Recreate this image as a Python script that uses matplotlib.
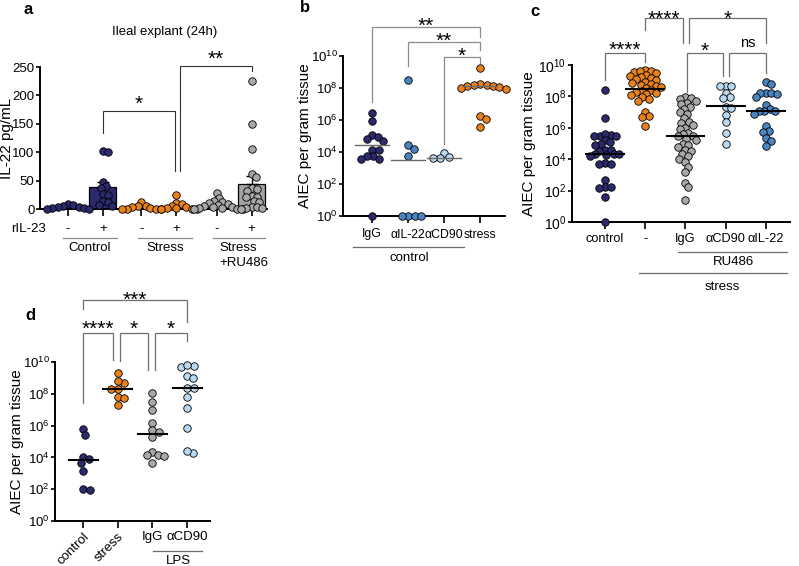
import numpy as np
import matplotlib
matplotlib.use('Agg')
import matplotlib.pyplot as plt
from matplotlib.lines import Line2D

plt.rcParams['font.family'] = ['Liberation Sans', 'DejaVu Sans']
plt.rcParams['mathtext.fontset'] = 'custom'
plt.rcParams['mathtext.rm'] = 'Liberation Sans'
plt.rcParams['mathtext.it'] = 'Liberation Sans:italic'
plt.rcParams['mathtext.bf'] = 'Liberation Sans:bold'

# ---- data: panel a, IL-22 pg/mL ----
a_ctrl_minus = [9, 7, 6, 4, 3, 2, 1, 0, 0]
a_ctrl_plus = [102, 101, 48, 40, 37, 27, 25, 14, 12, 7, 5]
a_str_minus = [12, 6, 5, 3, 1, 0, 0, 0, 0]
a_str_plus = [24, 11, 9, 6, 4, 2, 1, 0, 0, 0]
a_ru_minus = [28, 19, 14, 12, 10, 9, 7, 5, 4, 3, 2, 1, 0, 0, 0]
a_ru_plus = [226, 150, 105, 62, 57, 37, 36, 31, 23, 22, 21, 14, 13, 4, 3, 2, 1, 0]
a_ticklabels = ['-', '+', '-', '+', '-', '+']

# ---- data: panel b, log10 AIEC per gram tissue ----
b_igg = [6.46, 5.92, 5.04, 4.94, 4.83, 4.67, 4.15, 4.10, 3.75, 3.75, 3.58, 3.54, 0.0]
b_il22 = [8.48, 4.42, 4.21, 3.73, 0.0, 0.0, 0.0, 0.0]
b_cd90 = [3.94, 3.69, 3.65, 3.65]
b_stress = [9.27, 8.25, 8.21, 8.17, 8.12, 8.1, 8.06, 8.0, 7.96, 6.25, 6.08, 5.56]
b_lines = [4.42, 3.48, 3.65, 8.1]
b_ticklabels = ['IgG', 'αIL-22', 'αCD90', 'stress']

# ---- data: panel c ----
c_control = [8.4, 6.6, 5.55, 5.5, 5.5, 5.45, 5.6, 5.2, 5.1, 4.95, 4.9, 4.6, 4.55, 4.6,
             4.3, 4.25, 4.3, 4.2, 4.3, 3.75, 3.7, 3.72, 2.65, 2.2, 2.15, 2.2, 1.6, 0.0]
c_minus = [9.7, 9.62, 9.55, 9.6, 9.5, 9.35, 9.3, 9.2, 9.25, 9.1, 9.05, 8.9, 8.85, 8.8,
           8.7, 8.65, 8.6, 8.55, 8.4, 8.35, 8.3, 8.2, 8.15, 8.1, 7.95, 7.85, 7.7,
           7.0, 6.75, 6.7, 6.1]
c_igg = [7.95, 7.9, 7.85, 7.7, 7.6, 7.5, 7.3, 7.2, 7.0, 6.9, 6.6, 6.4, 6.3, 6.2, 6.0,
         5.9, 5.7, 5.6, 5.5, 5.45, 5.3, 5.2, 5.0, 4.9, 4.8, 4.6, 4.5, 4.3, 4.2, 4.0,
         3.8, 3.5, 3.2, 2.5, 2.2, 1.4]
c_cd90 = [8.66, 8.66, 8.66, 8.2, 7.95, 7.9, 7.3, 7.25, 6.8, 6.35, 5.65, 4.95]
c_il22 = [8.9, 8.77, 8.2, 8.2, 8.2, 8.15, 7.98, 7.45, 7.2, 7.1, 7.07, 7.05, 6.9,
          6.1, 5.8, 5.75, 5.35, 5.15, 4.85]
c_lines = [4.3, 8.5, 5.45, 7.4, 7.1]
c_ticklabels = ['control', '-', 'IgG', 'αCD90', 'αIL-22']

# ---- data: panel d ----
d_control = [5.77, 5.39, 4.03, 3.92, 3.65, 3.12, 2.03, 1.97]
d_stress = [9.29, 8.70, 8.82, 8.32, 8.32, 7.82, 7.72, 7.30]
d_igg = [8.07, 7.47, 6.98, 6.14, 5.72, 5.58, 5.30, 4.36, 4.15, 4.15, 4.11, 3.67]
d_cd90 = [9.67, 9.73, 9.79, 9.12, 8.97, 8.35, 8.35, 7.82, 7.09, 5.87, 4.30, 4.42]
d_lines = [3.84, 8.32, 5.47, 8.35]
d_ticklabels = ['control', 'stress', 'IgG', 'αCD90']

NAVY = '#2c2a6c'
ORANGE = '#e8821c'
GREY = '#a8a8a8'
LIGHT = '#b8d9f1'
MID = '#4a85c2'

W, H = 799, 566
fig = plt.figure(figsize=(W / 100, H / 100), dpi=100)


def px_axes(l, t, r, b):
    return fig.add_axes([l / W, 1 - b / H, (r - l) / W, (b - t) / H])


def ftext(x, y, s, **kw):
    kw.setdefault('ha', 'center')
    kw.setdefault('va', 'center')
    kw.setdefault('fontsize', 9.5)
    fig.text(x / W, 1 - y / H, s, **kw)


def fline(x1, x2, y, color='#6e6e6e', lw=0.9):
    fig.add_artist(Line2D([x1 / W, x2 / W], [1 - y / H, 1 - y / H],
                          transform=fig.transFigure, color=color, lw=lw))


def swarm(vals, d, sy):
    # simple beeswarm, offsets in pixels
    vals = np.asarray(vals, float)
    offs = np.zeros(len(vals))
    placed = []
    for i in np.argsort(-vals, kind='stable'):
        y = vals[i] * sy
        cands = [0.0]
        for (px_, py_) in placed:
            dy = y - py_
            if abs(dy) < d:
                dx = np.sqrt(d * d - dy * dy)
                cands += [px_ + dx, px_ - dx]
        cands.sort(key=abs)
        for c in cands:
            if all((c - px_) ** 2 + (y - py_) ** 2 >= d * d - 1e-6 for (px_, py_) in placed):
                break
        offs[i] = c
        placed.append((c, y))
    return offs


def dots(ax, x0, vals, color, sx, sy, d=7.0):
    offs = swarm(vals, d, sy)
    ax.plot(x0 + offs / sx, vals, 'o', ms=5.4, mfc=color, mec='black', mew=0.6,
            ls='none', clip_on=False, zorder=3)


def style(ax):
    for s in ['top', 'right']:
        ax.spines[s].set_visible(False)
    for s in ['left', 'bottom']:
        ax.spines[s].set_linewidth(1.4)
    ax.tick_params(width=1.2, length=3, labelsize=9.5, pad=1)


def bracket(ax, x1, x2, y, y1, y2, txt, tc, color, lw=0.9, fs=15, ns=False):
    ax.plot([x1, x1, x2, x2], [y1, y, y, y2], color=color, lw=lw, clip_on=False,
            solid_joinstyle='miter')
    shift = (0.27 if ns else 0.575) * fs * 100 / 72
    ax.annotate(txt, ((x1 + x2) / 2, tc), xytext=(0, -shift), textcoords='offset pixels',
                ha='center', va='baseline', fontsize=fs, annotation_clip=False)


def logaxis(ax, fs=9.5):
    ax.set_ylim(0, 10)
    ax.set_yticks(range(0, 11, 2))
    ax.set_yticklabels([r'$10^{%d}$' % k for k in range(0, 11, 2)], fontsize=fs)


# ================= panel a =================
ax = px_axes(40, 67, 267, 209)
style(ax)
a_pos = np.array([0, 1, 2.1, 3.1, 4.25, 5.25])
a_sets = [a_ctrl_minus, a_ctrl_plus, a_str_minus, a_str_plus, a_ru_minus, a_ru_plus]
a_cols = [NAVY, NAVY, ORANGE, ORANGE, GREY, GREY]
a_bars = [NAVY, NAVY, ORANGE, ORANGE, '#a3a3a3', '#a3a3a3']
ax.set_xlim(-0.8, 5.69)
ax.set_ylim(0, 250)
sx, sy = 35.0, 142 / 250
means = [np.mean(v) for v in a_sets]
sems = [np.std(v, ddof=1) / np.sqrt(len(v)) for v in a_sets]
ax.bar(a_pos, means, width=0.77, color=a_bars, edgecolor='black', lw=0.9, zorder=1)
ax.errorbar(a_pos, means, yerr=[np.zeros(6), sems], fmt='none', ecolor='black',
            elinewidth=1.0, capsize=4, capthick=1.0, zorder=2)
for x0, v, c in zip(a_pos, a_sets, a_cols):
    dots(ax, x0, v, c, sx, sy, d=5.5)
ax.set_yticks(range(0, 251, 50))
ax.set_xticks(a_pos)
ax.set_xticklabels(a_ticklabels)
ax.tick_params(axis='x', length=5, pad=5)
ax.set_ylabel('IL-22 pg/mL', fontsize=11)
ax.yaxis.set_label_coords(-26 / 227, 0.5)
bracket(ax, 1, 3.06, 172, 134, 67, '*', 195, '#333333', lw=0.8)
bracket(ax, 3.2, 5.25, 252, 67, 243, '**', 275, '#333333', lw=0.8)

ftext(165, 32, 'Ileal explant (24h)')
ftext(28, 229, 'rIL-23')
fline(63, 117, 238, color='#8c8c8c')
fline(138, 192, 238, color='#8c8c8c')
fline(213, 265, 238, color='#8c8c8c')
ftext(90, 248, 'Control')
ftext(165, 248, 'Stress')
ftext(238, 248, 'Stress')
ftext(244, 263, '+RU486')
ftext(28, 9, 'a', fontsize=12, fontweight='bold')

# ================= panel b =================
ax = px_axes(343, 56, 505, 216)
style(ax)
logaxis(ax)
ax.set_xlim(-0.81, 3.69)
sx, sy = 36.0, 16.0
b_sets = [b_igg, b_il22, b_cd90, b_stress]
b_cols = [NAVY, MID, LIGHT, ORANGE]
for i, (v, c) in enumerate(zip(b_sets, b_cols)):
    dots(ax, i, v, c, sx, sy, d=6.5)
    ax.plot([i - 0.47, i + 0.47], [b_lines[i]] * 2, color='#6a6a6a', lw=1.0, zorder=4)
ax.set_xticks(range(4))
ax.set_xticklabels(b_ticklabels, fontsize=8.8)
ax.tick_params(axis='x', length=5, pad=4)
ax.set_ylabel('AIEC per gram tissue', fontsize=11)
ax.yaxis.set_label_coords(-31 / 162, 0.5)
bc = '#8c8c8c'
bracket(ax, 0, 3, 11.8, 7.1, 11.2, '**', 12.25, bc)
bracket(ax, 1, 3, 10.9, 9.4, 10.4, '**', 11.3, bc)
bracket(ax, 2, 3, 9.95, 4.5, 9.55, '*', 10.4, bc)
fline(353, 464, 247)
ftext(409, 258, 'control')
ftext(305, 8, 'b', fontsize=12, fontweight='bold')

# ================= panel c =================
ax = px_axes(572, 65, 790, 222)
style(ax)
logaxis(ax, fs=10)
ax.set_xlim(-0.82, 4.6)
sx, sy = 40.2, 15.7
c_sets = [c_control, c_minus, c_igg, c_cd90, c_il22]
c_cols = [NAVY, ORANGE, GREY, LIGHT, MID]
for i, (v, c) in enumerate(zip(c_sets, c_cols)):
    dots(ax, i, v, c, sx, sy, d=5.6)
    ax.plot([i - 0.47, i + 0.47], [c_lines[i]] * 2, color='black', lw=1.5, zorder=4)
ax.set_xticks(range(5))
ax.set_xticklabels(c_ticklabels, fontsize=9.2)
ax.tick_params(axis='x', length=5, pad=3)
ax.set_ylabel('AIEC per gram tissue', fontsize=11)
ax.yaxis.set_label_coords(-36 / 218, 0.5)
cc = '#6e6e6e'
bracket(ax, 0, 1, 10.76, 9.04, 10.2, '****', 11.34, cc)
bracket(ax, 1, 1.94, 13.0, 12.2, 11.4, '****', 13.3, cc)
bracket(ax, 2.09, 4.0, 13.0, 11.4, 11.4, '*', 13.3, cc)
bracket(ax, 2.04, 2.94, 10.76, 8.3, 9.3, '*', 11.27, cc)
bracket(ax, 3.08, 4.0, 10.76, 9.3, 9.5, 'ns', 11.4, cc, fs=10.5, ns=True)
fline(678, 787, 252)
ftext(733, 262, 'RU486')
fline(639, 787, 273)
ftext(722, 287, 'stress')
ftext(535, 11, 'c', fontsize=12, fontweight='bold')

# ================= panel d =================
ax = px_axes(55, 362, 210, 521)
style(ax)
logaxis(ax)
ax.set_xlim(-0.81, 3.66)
sx, sy = 34.7, 15.9
d_sets = [d_control, d_stress, d_igg, d_cd90]
d_cols = [NAVY, ORANGE, GREY, LIGHT]
for i, (v, c) in enumerate(zip(d_sets, d_cols)):
    dots(ax, i, v, c, sx, sy, d=6.5)
    ax.plot([i - 0.42, i + 0.42], [d_lines[i]] * 2, color='black', lw=1.5, zorder=4)
ax.set_xticks(range(4))
ax.set_xticklabels(d_ticklabels, fontsize=9.5)
ax.tick_params(axis='x', length=5, pad=2)
for lbl in ax.get_xticklabels()[:2]:
    lbl.set_rotation(45)
    lbl.set_ha('right')
    lbl.set_rotation_mode('anchor')
ax.set_ylabel('AIEC per gram tissue', fontsize=11)
ax.yaxis.set_label_coords(-31 / 155, 0.5)
dc = '#6e6e6e'
bracket(ax, 0, 3.0, 13.9, 13.33, 12.52, '***', 14.28, dc)
bracket(ax, 0, 0.86, 11.82, 7.42, 10.13, '****', 12.45, dc)
bracket(ax, 1.07, 1.87, 11.82, 10.06, 9.5, '*', 12.45, dc)
bracket(ax, 2.07, 3.0, 11.82, 9.5, 11.32, '*', 12.45, dc)
fline(153, 202, 551)
ftext(178, 561, 'LPS')
ftext(30, 316, 'd', fontsize=12, fontweight='bold')

fig.savefig('out.png', dpi=100)
